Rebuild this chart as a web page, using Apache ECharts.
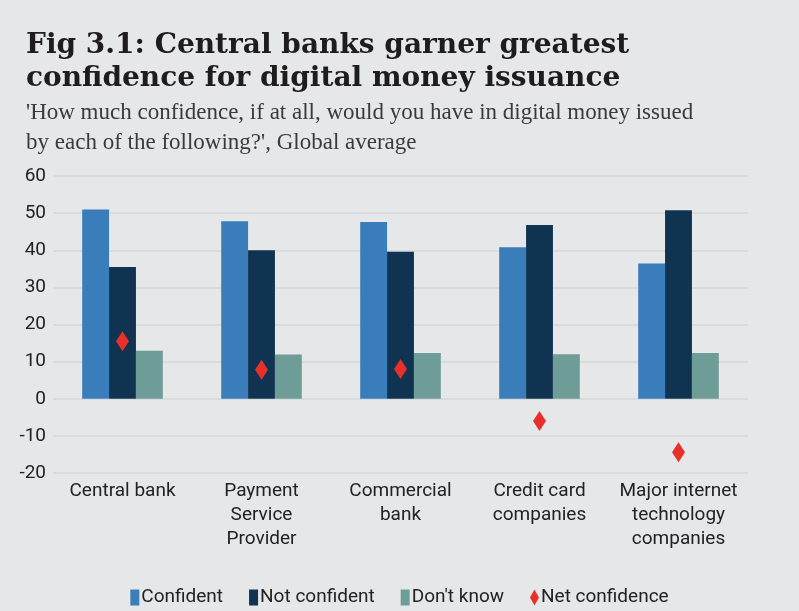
<!DOCTYPE html>
<html>
<head>
<meta charset="utf-8">
<script src="https://cdn.jsdelivr.net/npm/echarts@6/dist/echarts.min.js"></script>
<style>
html, body { margin: 0; padding: 0; background: #e6e7e9; }
#container { width: 799px; height: 611px; }
</style>
</head>
<body>
<div id="container"></div>
<script>
var categories = ['Central bank', 'Payment\nService\nProvider', 'Commercial\nbank', 'Credit card\ncompanies', 'Major internet\ntechnology\ncompanies'];
var confident = [51, 47.8, 47.6, 40.8, 36.4];
var notConfident = [35.5, 40, 39.6, 46.8, 50.8];
var dontKnow = [12.9, 11.9, 12.3, 12, 12.3];
var netConfidence = [15.5, 7.8, 8, -6, -14.4];
var yTicks = [-20, -10, 0, 10, 20, 30, 40, 50, 60];

var dom = document.getElementById('container');
var myChart = echarts.init(dom);

var option = {
    backgroundColor: '#e6e7e9',
    color: ['#3a7dbb', '#0f3350', '#6e9c96', '#e8302a'],
    title: [
        {
            text: 'Fig 3.1: Central banks garner greatest\nconfidence for digital money issuance',
            left: 21,
            top: 24,
            textStyle: {
                fontFamily: 'DejaVu Serif',
                fontWeight: 'bold',
                fontSize: 28,
                lineHeight: 33,
                color: '#1e1c1d'
            }
        },
        {
            text: "'How much confidence, if at all, would you have in digital money issued\nby each of the following?', Global average",
            left: 21,
            top: 93,
            textStyle: {
                fontFamily: 'Liberation Serif',
                fontWeight: 'normal',
                fontSize: 23,
                lineHeight: 30,
                color: '#3a3a3a'
            }
        }
    ],
    legend: {
        bottom: -1,
        left: 'center',
        itemGap: 26,
        itemWidth: 9,
        itemHeight: 16,
        textStyle: { color: '#222', fontSize: 19, fontFamily: 'Roboto', padding: [0, 0, 0, -3] },
        data: [
            { name: 'Confident', icon: 'rect' },
            { name: 'Not confident', icon: 'rect' },
            { name: "Don't know", icon: 'rect' },
            { name: 'Net confidence', icon: 'diamond' }
        ]
    },
    grid: { left: 53, right: 51, top: 176, bottom: 138 },
    xAxis: {
        type: 'category',
        data: categories,
        axisLine: { show: false },
        axisTick: { show: false },
        axisLabel: {
            interval: 0,
            margin: 6,
            color: '#222',
            fontSize: 19,
            fontFamily: 'Roboto',
            lineHeight: 24
        }
    },
    yAxis: {
        type: 'value',
        min: yTicks[0],
        max: yTicks[yTicks.length - 1],
        interval: 10,
        axisLine: { show: false },
        axisTick: { show: false },
        axisLabel: { color: '#222', fontSize: 19, fontFamily: 'Roboto', margin: 7 },
        splitLine: { lineStyle: { color: '#d6d7d9', width: 1.5 } }
    },
    series: [
        { name: 'Confident', type: 'bar', data: confident, barGap: '0%', barCategoryGap: '42%' },
        { name: 'Not confident', type: 'bar', data: notConfident },
        { name: "Don't know", type: 'bar', data: dontKnow },
        {
            name: 'Net confidence',
            type: 'scatter',
            data: netConfidence,
            symbol: 'diamond',
            symbolSize: [13, 20],
            itemStyle: { opacity: 1 },
            z: 5
        }
    ]
};

myChart.setOption(option, true);
</script>
</body>
</html>
